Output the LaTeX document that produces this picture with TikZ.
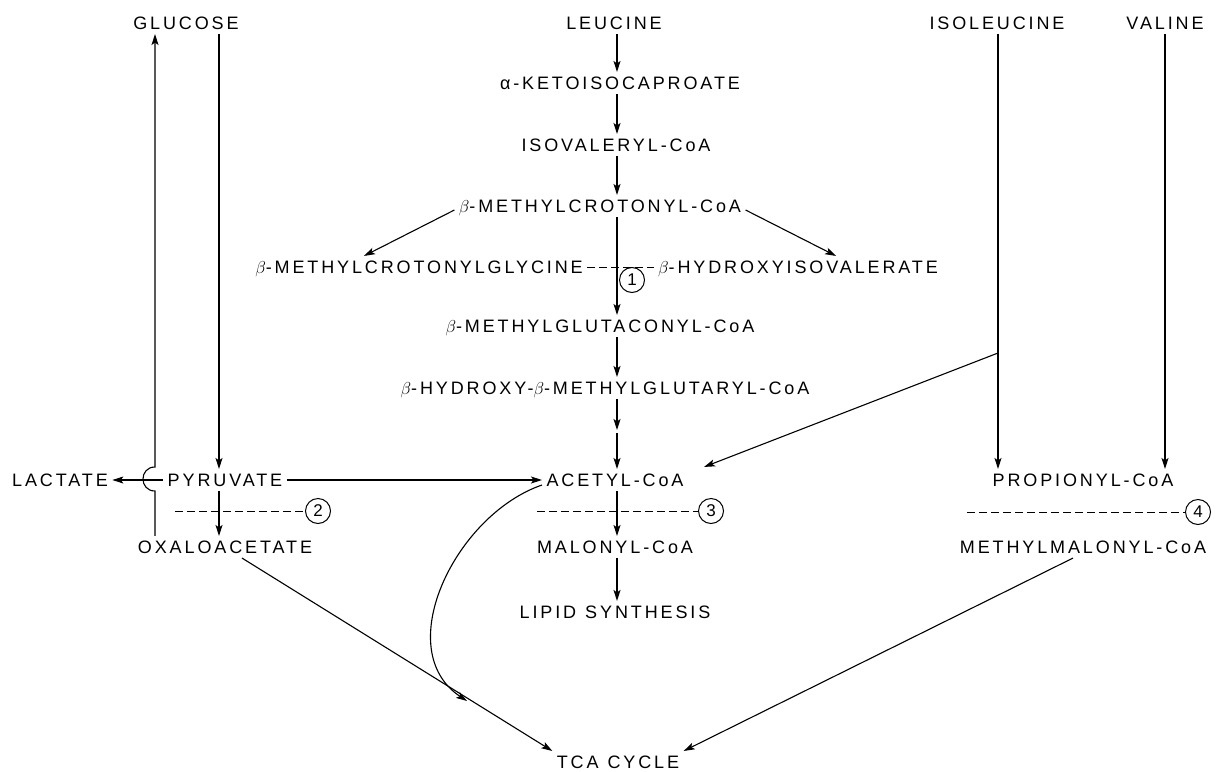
\documentclass[tikz,border=0pt]{standalone}
\usepackage{fontspec}
\setmainfont[LetterSpace=16]{Liberation Sans}
\usepackage{tikz}
\usetikzlibrary{calc,arrows.meta}
\tikzset{>={Stealth[length=11pt,width=7pt,inset=2.5pt]}}
\tikzset{
  met/.style={inner sep=4pt,text height=13pt,text depth=0pt,font=\fontsize{18}{22}\selectfont},
  enz/.style={draw,circle,inner sep=0pt,minimum size=25pt,line width=1pt,font=\fontsize{17}{20}\selectfont},
  blk/.style={dash pattern=on 8pt off 4pt,line width=0.9pt}
}

\begin{document}
\begin{tikzpicture}[x=1pt,y=-1pt,line width=1.1pt]
    \useasboundingbox (0,0) rectangle (1225,771);
    \node[met] (glc) at (186,23) {GLUCOSE};
    \node[met] (leu) at (614,23) {LEUCINE};
    \node[met] (ile) at (997,23) {ISOLEUCINE};
    \node[met] (val) at (1165,23) {VALINE};
    \node[met] (kic) at (620,83) {α-KETOISOCAPROATE};
    \node[met] (ivc) at (616,145) {ISOVALERYL-CoA};
    \node[met] (mcc) at (600,206) {$\beta$-METHYLCROTONYL-CoA};
    \node[met] (mcg) at (419,267) {$\beta$-METHYLCROTONYLGLYCINE};
    \node[met] (hiv) at (798,267) {$\beta$-HYDROXYISOVALERATE};
    \node[met] (mgc) at (600,326) {$\beta$-METHYLGLUTACONYL-CoA};
    \node[met] (hmg) at (605,388) {$\beta$-HYDROXY-$\beta$-METHYLGLUTARYL-CoA};
    \node[met] (lac) at (60,480) {LACTATE};
    \node[met] (pyr) at (225,480) {PYRUVATE};
    \node[met] (acc) at (615,480) {ACETYL-CoA};
    \node[met] (prc) at (1083,480) {PROPIONYL-CoA};
    \node[met] (oaa) at (225,547) {OXALOACETATE};
    \node[met] (mal) at (615,547) {MALONYL-CoA};
    \node[met] (mma) at (1083,547) {METHYLMALONYL-CoA};
    \node[met] (lip) at (615,612) {LIPID\enspace SYNTHESIS};
    \node[met] (tca) at (618,762) {TCA\enspace CYCLE};
    \node[enz] (e1) at (632,280) {1};
    \node[enz] (e2) at (318,511) {2};
    \node[enz] (e3) at (711,511) {3};
    \node[enz] (e4) at (1198,512) {4};
    \coordinate (col) at (617,0);
    \coordinate (mid) at (617,430);
    \coordinate (upx) at (155,0);
    \coordinate (dnx) at (219,0);
    \coordinate (br) at (998,353);
    \coordinate (join) at (467,701);
    \coordinate (d2) at (175,511);
    \coordinate (d3) at (537,511);
    \coordinate (d4) at (967,512);
      \draw[->] (leu.south -| col)--(kic.north -| col);
      \draw[->] (kic.south -| col)--(ivc.north -| col);
      \draw[->] (ivc.south -| col)--(mcc.north -| col);
      \draw[->] (mcc.south -| col)--(mgc.north -| col);
      \draw[->] (mgc.south -| col)--(hmg.north -| col);
      \draw[->] (hmg.south -| col)--(mid);
      \draw[->] ([yshift=-3pt]mid)--(acc.north -| col);
      \draw[->] (acc.south -| col)--(mal.north -| col);
      \draw[->,line width=1.6pt] (mal.south -| col)--(lip.north -| col);
    \draw[->] ([yshift=-4pt]mcc.west)--([xshift=-55pt]mcg.north);
    \draw[->] ([yshift=-4pt]mcc.east)--([xshift=38pt]hiv.north);
    \draw[blk] (mcg.east)--(hiv.west);
    \draw[blk] (d2)--(e2);
    \draw[blk] (d3)--(e3);
    \draw[blk] (d4)--(e4);
    \draw[->] (oaa.north -| upx)--(155,491) .. controls (139,491) and (139,467) .. (155,467)--(glc.south -| upx);
    \draw[->] (glc.south -| dnx)--(pyr.north -| dnx);
    \draw[->] (pyr.south -| dnx)--(oaa.north -| dnx);
    \draw[->] (pyr.west)--(lac.east);
    \draw[->] (pyr.east)--(acc.west);
    \draw[->] ([xshift=17pt]oaa.south)--(tca.north west);
    \draw[->] ([yshift=-5pt]acc.west) .. controls (455,515) and (390,650) .. (join);
    \draw[->] ([xshift=-10pt]mma.south)--(tca.north east);
    \draw[->] (ile.south -| br)--(prc.north -| br);
    \draw[->] (br)--($(acc.north east)+(16,-2)$);
    \draw[->] (val.south)--(val.south |- prc.north);
     \end{tikzpicture}
\end{document}
